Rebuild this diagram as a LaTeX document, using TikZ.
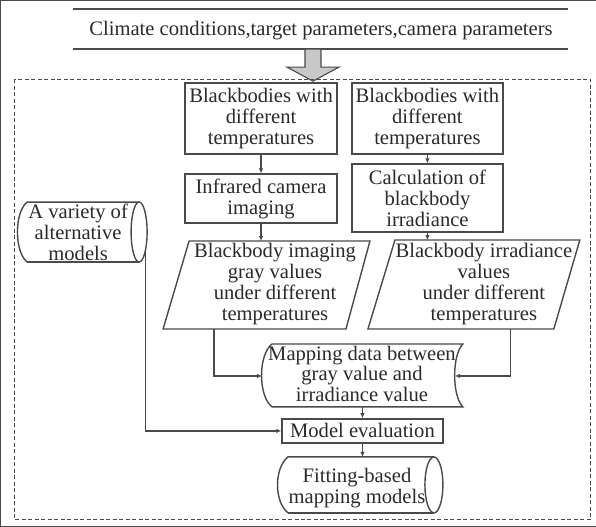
\documentclass[tikz,border=0pt]{standalone}
\usepackage{fontspec}
\setmainfont{Liberation Serif}
\usetikzlibrary{arrows.meta}
\definecolor{ln}{HTML}{4A4A4A}
\definecolor{tx}{HTML}{2A2A2A}
\definecolor{hollow}{HTML}{C8C8C8}
\begin{document}
\begin{tikzpicture}[x=1pt,y=-1pt,
  every path/.style={draw=ln},
  shp/.style={draw=ln, line width=1.4pt},
  txt/.style={font=\fontsize{20.6}{21}\selectfont, text=tx, align=center, inner sep=0pt},
  boxn/.style={txt, draw=ln, line width=1.4pt, rectangle},
  con/.style={draw=ln, line width=1.2pt, -{Latex[length=5pt,width=4.5pt]}},
  frame/.style={draw=ln, line width=1.2pt, dash pattern=on 4pt off 2.5pt}
]
\useasboundingbox (0,0) rectangle (596,526);

% top header
\draw[shp] (73,9) -- (568,9);
\draw[shp] (73,49) -- (568,49);
\node[txt] (hdr) at (321,30) {Climate conditions,target parameters,camera parameters};

% hollow arrow
\draw[draw=ln, line width=1.1pt, fill=hollow] (305,49) -- (321,49) -- (321,67) -- (339,67) -- (313,81) -- (287,67) -- (305,67) -- cycle;

% dashed frame
\draw[frame] (14,79) rectangle (591,520);

% rectangles
\node[boxn, minimum width=152pt, minimum height=71pt] (b1) at (261,118.5) {Blackbodies with\\different\\temperatures};
\node[boxn, minimum width=151pt, minimum height=71pt] (b2) at (427.5,118.5) {Blackbodies with\\different\\temperatures};
\node[boxn, minimum width=152pt, minimum height=49pt] (inf) at (261,198.5) {Infrared camera\\imaging};
\node[boxn, minimum width=151pt, minimum height=68pt] (calc) at (427.5,198) {Calculation of\\blackbody\\irradiance};

% left parallelogram
\draw[shp] (189,241) -- (370,241) -- (346,329) -- (163,329) -- cycle;
\node[txt] (pL) at (275,284.5) {Blackbody imaging\\gray values\\under different\\temperatures};
\coordinate (pLt) at (261,241);
\coordinate (pLb) at (214,329);

% right parallelogram
\draw[shp] (395,240) -- (580,240) -- (554,329) -- (368,329) -- cycle;
\node[txt] (pR) at (484,284.5) {Blackbody irradiance\\values\\under different\\temperatures};
\coordinate (pRt) at (427.5,240);
\coordinate (pRb) at (511,329);

% alternative models cylinder
\draw[shp] (27,262) .. controls (14,252) and (14,212) .. (27,202) -- (139,202);
\draw[shp] (139,262) -- (27,262);
\draw[shp] (139,232) ellipse [x radius=8, y radius=30];
\node[txt] (alt) at (78,232) {A variety of\\alternative\\models};
\coordinate (altb) at (145,252);

% mapping data (stored data)
\draw[shp] (272,344) -- (463,344) .. controls (452,355) and (452,396) .. (463,407) -- (272,407) .. controls (258,396) and (258,355) .. (272,344) -- cycle;
\node[txt] (map) at (362,374) {Mapping data between\\gray value and\\irradiance value};
\coordinate (mapL) at (262,376);
\coordinate (mapR) at (455,376);
\coordinate (mapB) at (362.5,407);

% model evaluation
\node[boxn, minimum width=161pt, minimum height=24pt] (me) at (362.5,431) {Model evaluation};

% fitting-based mapping models cylinder
\draw[shp] (288,513) .. controls (274,502) and (274,468) .. (288,457) -- (434,457);
\draw[shp] (434,513) -- (288,513);
\draw[shp] (434,485) ellipse [x radius=9, y radius=28];
\node[txt] (fit) at (357,488) {Fitting-based\\mapping models};
\coordinate (fitT) at (362.5,457);

% connectors
\draw[con] (b1.south) -- (inf.north);
\draw[con] (b2.south) -- (calc.north);
\draw[con] (inf.south) -- (pLt);
\draw[con] (calc.south) -- (pRt);
\draw[con] (pLb) |- (mapL);
\draw[con] (pRb) |- (mapR);
\draw[con] (mapB) -- (me.north);
\draw[con] (me.south) -- (fitT);
\draw[con] (altb) |- (me.west);
\end{tikzpicture}
\end{document}
